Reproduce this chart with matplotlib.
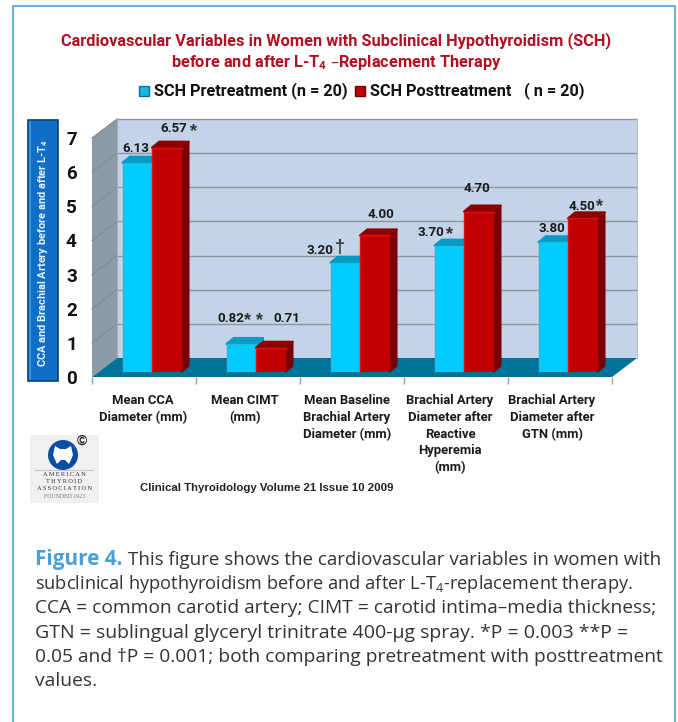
import matplotlib
matplotlib.use("Agg")
import matplotlib.pyplot as plt
from matplotlib.patches import Polygon, Rectangle, Circle, PathPatch
from matplotlib.path import Path

plt.rcParams['mathtext.default'] = 'regular'

# Data
categories = ["Mean CCA\nDiameter (mm)", "Mean CIMT\n(mm)", "Mean Baseline\nBrachial Artery\nDiameter (mm)",
              "Brachial Artery\nDiameter after\nReactive\nHyperemia\n(mm)", "Brachial Artery\nDiameter after\nGTN (mm)"]
pre_values = [6.13, 0.82, 3.20, 3.70, 3.80]
post_values = [6.57, 0.71, 4.00, 4.70, 4.50]
y_ticks = [0, 1, 2, 3, 4, 5, 6, 7]

title_lines = ["Cardiovascular Variables in Women with Subclinical Hypothyroidism (SCH)",
               "before and after L-T$_4$ –Replacement Therapy"]
y_title = "CCA and Brachial Artery before and after L-T$_4$"
source = "Clinical Thyroidology Volume 21 Issue 10 2009"
caption_head = "Figure 4."
caption_lines = ["This figure shows the cardiovascular variables in women with",
                 "subclinical hypothyroidism before and after L-T$_4$-replacement therapy.",
                 "CCA = common carotid artery; CIMT = carotid intima–media thickness;",
                 "GTN = sublingual glyceryl trinitrate 400-µg spray. *P = 0.003 **P =",
                 "0.05 and †P = 0.001; both comparing pretreatment with posttreatment",
                 "values."]

# Colours
CYAN, CYAN_TOP, CYAN_SIDE, CYAN_RIM = "#00CCFF", "#009CC6", "#00A8D4", "#2FB4DA"
RED, RED_TOP, RED_SIDE, RED_RIM = "#C00000", "#8E0000", "#760000", "#E01010"
WALL, SIDE_WALL, FLOOR, GRID = "#C3D3E8", "#8D9BA8", "#00739A", "#8C949C"
COND = "Roboto"
W, H = 678, 722

fig = plt.figure(figsize=(W / 100, H / 100), dpi=100, facecolor="white")

# overlay in pixel coordinates for the page furniture and text
page = fig.add_axes([0, 0, 1, 1], zorder=3)
page.set_xlim(0, W)
page.set_ylim(H, 0)
page.axis("off")
page.patch.set_alpha(0)

# chart axes: one x unit is one category, front plane of the fake 3D box
left, right, front_top, front_base = 92, 612, 138, 377
ax = fig.add_axes([left / W, 1 - front_base / H, (right - left) / W, (front_base - front_top) / H], zorder=2)
ax.set_xlim(0, 5)
ax.set_ylim(0, 7)
ax.patch.set_alpha(0)
for s in ax.spines.values():
    s.set_visible(False)
px_x = 5 / (right - left)
px_y = 7 / (front_base - front_top)

# depth of the box and of the bars
dx, dy = 25 * px_x, 19 * px_y
bar_dx, bar_dy = 7.3 * px_x, 6 * px_y
base = 5 * px_y
shift = 8 * px_x
bar_w = 29.5 * px_x

# walls and floor
ax.add_patch(Polygon([(dx, dy), (5 + dx, dy), (5 + dx, 7 + dy), (dx, 7 + dy)], fc=WALL, ec="none", clip_on=False, zorder=1))
ax.add_patch(Polygon([(0, 0), (dx, dy), (dx, 7 + dy), (0, 7)], fc=SIDE_WALL, ec="none", clip_on=False, zorder=1))
for v in y_ticks[1:]:
    ax.plot([dx, 5 + dx], [v + dy, v + dy], color=GRID, lw=1, clip_on=False, zorder=2)
    ax.plot([0, dx], [v, v + dy], color="#7F8C98", lw=0.8, clip_on=False, zorder=2)
ax.plot([dx, dx], [dy, 7 + dy], color="#A4AEB8", lw=0.8, clip_on=False, zorder=2)
ax.plot([5 + dx, 5 + dx], [dy, 7 + dy], color="#B5C2D2", lw=0.8, clip_on=False, zorder=2)
ax.add_patch(Polygon([(0, 0), (5, 0), (5 + dx, dy), (dx, dy)], fc=FLOOR, ec="none", clip_on=False, zorder=3))


def draw_bar(x, value, front, top, side, rim, order):
    y0, y1 = base, base + value
    ax.add_patch(Polygon([(x + bar_w, y0), (x + bar_w + bar_dx, y0 + bar_dy), (x + bar_w + bar_dx, y1 + bar_dy), (x + bar_w, y1)],
                         fc=side, ec=side, lw=1, joinstyle="round", clip_on=False, zorder=order))
    ax.add_patch(Polygon([(x, y1), (x + bar_w, y1), (x + bar_w + bar_dx, y1 + bar_dy), (x + bar_dx, y1 + bar_dy)],
                         fc=top, ec=top, lw=1.5, joinstyle="round", clip_on=False, zorder=order))
    ax.bar(x, value, width=bar_w, bottom=base, align="edge", color=front, edgecolor="none", clip_on=False, zorder=order + 0.1)
    # bevel round the front face
    ax.plot([x, x, x + bar_w], [y0, y1, y1], color=rim, lw=1, solid_joinstyle="round", clip_on=False, zorder=order + 0.2)


for i in range(len(categories)):
    mid = i + 0.5 + shift
    draw_bar(mid - bar_w, pre_values[i], CYAN, CYAN_TOP, CYAN_SIDE, CYAN_RIM, 4 + i * 2)
    draw_bar(mid, post_values[i], RED, RED_TOP, RED_SIDE, RED_RIM, 5 + i * 2)

# axis ticks
ax.set_xticks(range(6))
ax.set_xticklabels([])
ax.set_yticks(y_ticks)
ax.set_yticklabels([str(v) for v in y_ticks], family=COND, fontweight="bold", fontsize=13.5, color="#111111")
ax.tick_params(axis="x", length=5, width=1, color="#9AA0A6", pad=2)
ax.tick_params(axis="y", length=0, pad=11)

# category labels
label_x = [143, 245, 347, 450, 552]
for x, txt in zip(label_x, categories):
    page.text(x, 394, txt, ha="center", va="top", family=COND, fontweight="bold", fontsize=9.4,
              color="#1a1a1a", linespacing=1.38)

# value labels
pre_pos = [(136, 148), (231, 319), (320, 250), (431, 233), (552, 229)]
post_pos = [(174, 129), (287, 319), (381, 215), (477, 188), (582, 206)]
for v, (x, y) in zip(pre_values, pre_pos):
    page.text(x, y, f"{v:.2f}", ha="center", va="center", family=COND, fontweight="bold", fontsize=9.6, color="#1a1a1a")
for v, (x, y) in zip(post_values, post_pos):
    page.text(x, y, f"{v:.2f}", ha="center", va="center", family=COND, fontweight="bold", fontsize=9.6, color="#1a1a1a")
# significance marks
for x, y, mark in [(193, 129, "*"), (254, 319, "* *"), (340, 245, "†"), (449, 232, "*"), (599, 204, "*")]:
    page.text(x, y + 3, mark, ha="center", va="center", family="Liberation Sans", fontweight="bold", fontsize=13, color="#333333")

# y axis title box
page.add_patch(Rectangle((28, 120), 30, 261, fc="#0F6FC6", ec="#0A3F78", lw=1.2))
page.plot([30, 30], [122, 379], color="#3E9BE8", lw=1.2)
page.text(43, 253, y_title, rotation=90, ha="center", va="center", family=COND, fontweight="bold", fontsize=7.9, color="#E8F2FA")

# title and legend
for y, line in zip([41, 63], title_lines):
    page.text(336, y, line, ha="center", va="center", family=COND, fontweight="bold", fontsize=11.8, color="#B01020")
page.add_patch(Rectangle((139, 86), 10, 10, fc="#19B5E5", ec="#0D6F95", lw=1))
page.text(154, 91, "SCH Pretreatment (n = 20)", ha="left", va="center", family=COND, fontweight="bold", fontsize=11.7, color="#111111")
page.add_patch(Rectangle((355, 86), 10, 10, fc=RED, ec="#700000", lw=1))
page.text(370, 91, "SCH Posttreatment", ha="left", va="center", family=COND, fontweight="bold", fontsize=11.7, color="#111111")
page.text(524, 91, "( n = 20)", ha="left", va="center", family=COND, fontweight="bold", fontsize=11.7, color="#111111")

# logo
page.add_patch(Rectangle((30, 435), 69, 68, fc="#F0F0F0", ec="none"))
page.add_patch(Circle((63, 455), 15, fc="#0B4DA2", ec="none"))
thyroid = Path([(55, 446), (60, 449), (66, 449), (71, 446), (73, 455), (69, 464), (65, 460), (61, 460), (57, 464), (53, 455), (55, 446)])
page.add_patch(PathPatch(thyroid, fc="white", ec="none"))
page.text(82, 441, "©", ha="center", va="center", fontsize=10, color="#222222", family="Liberation Sans", fontweight="bold")
page.plot([35, 93], [470, 470], color="#BBBBBB", lw=0.6)
for y, word in zip([475, 481.5, 488], ["AMERICAN", "THYROID", "ASSOCIATION"]):
    page.text(64.5, y, "\u2009".join(word), ha="center", va="center", family="Liberation Serif", fontsize=4.6, color="#333333")
page.text(64.5, 496, "FOUNDED 1923", ha="center", va="center", family="Liberation Serif", fontsize=4.2, color="#777777")

# source
page.text(140, 488, source, ha="left", va="center", family="Liberation Sans", fontweight="bold", fontsize=8.2, color="#222222")

# caption, each line sized to reach its right edge in the reference
caption_y = [560, 584, 608, 633, 657, 681]
caption_left = [128, 35, 35, 35, 35, 35]
caption_right = [658, 633, 652, 624, 658, 97]
fig.canvas.draw()
renderer = fig.canvas.get_renderer()
head = page.text(35, caption_y[0], caption_head, ha="left", va="center", family="Open Sans", fontweight="bold", fontsize=13, color="#4A9FD4")
head.set_fontsize(13 * 87 / head.get_window_extent(renderer).width)
for line, y, x0, x1 in zip(caption_lines, caption_y, caption_left, caption_right):
    t = page.text(x0, y, line, ha="left", va="center", family="Open Sans", fontsize=13, color="#333333")
    t.set_fontsize(13 * (x1 - x0) / t.get_window_extent(renderer).width)

# page frame, open at the bottom
page.plot([12.5, 12.5, 675, 675], [H, 5.5, 5.5, H], color="#4A9FD4", lw=1.2)

fig.savefig("out.png", dpi=100)
